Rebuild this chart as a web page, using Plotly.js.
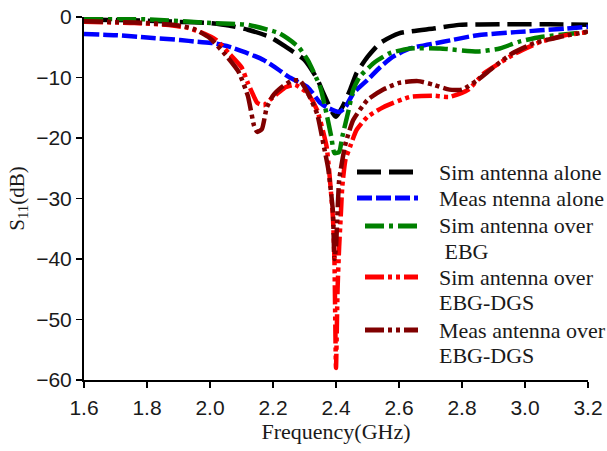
<!DOCTYPE html>
<html>
<head>
<meta charset="utf-8">
<script src="https://cdn.plot.ly/plotly-3.0.1.min.js"></script>
<style>html,body{margin:0;padding:0;background:#fff;}#chart{width:607px;height:451px;}</style>
</head>
<body>
<div id="chart"></div>
<script>
// Sim antenna alone
const simAloneX = [1.6,1.7,1.8,1.9,2.0,2.06,2.12,2.19,2.24,2.3,2.34,2.36,2.39,2.40,2.42,2.445,2.465,2.5,2.54,2.6,2.71,2.79,2.92,3.08,3.2];
const simAloneY = [-0.4,-0.5,-0.6,-0.8,-1.0,-1.4,-2.1,-3.3,-4.9,-7.1,-10.2,-12.6,-15.9,-16.5,-14.9,-12.0,-9.3,-6.6,-4.3,-2.7,-1.9,-1.3,-1.2,-1.2,-1.3];
// Meas antenna alone
const measAloneX = [1.6,1.7,1.8,1.905,1.96,2.01,2.06,2.12,2.17,2.22,2.25,2.31,2.35,2.37,2.41,2.43,2.455,2.5,2.54,2.58,2.635,2.74,2.85,2.97,3.13,3.2];
const measAloneY = [-2.8,-3.0,-3.4,-3.8,-4.1,-4.3,-4.9,-6.0,-7.1,-8.8,-9.9,-11.6,-14.2,-14.9,-15.7,-14.9,-12.6,-10.4,-8.3,-6.6,-5.2,-4.1,-3.0,-2.5,-1.9,-1.6];
// Sim antenna over EBG
const simEbgX = [1.6,1.8,2.01,2.12,2.22,2.28,2.31,2.35,2.37,2.385,2.395,2.41,2.42,2.44,2.455,2.475,2.52,2.57,2.635,2.73,2.85,2.92,2.98,3.05,3.2];
const simEbgY = [-0.3,-0.4,-1.0,-1.3,-2.7,-4.9,-7.1,-11.6,-16.0,-19.8,-22.5,-22.3,-19.8,-15.4,-12.0,-9.9,-7.6,-6.0,-5.2,-5.2,-5.7,-5.2,-4.1,-3.3,-2.5];
// Sim antenna over EBG-DGS
const simDgsX = [1.6,1.76,1.86,1.93,1.97,2.02,2.06,2.1,2.12,2.14,2.15,2.17,2.19,2.22,2.24,2.27,2.31,2.34,2.37,2.39,2.395,2.40,2.405,2.41,2.415,2.42,2.43,2.445,2.465,2.5,2.55,2.635,2.71,2.76,2.82,2.87,2.92,2.97,3.05,3.13,3.2];
const simDgsY = [-0.8,-1.0,-1.3,-1.8,-2.5,-3.8,-6.0,-8.3,-10.9,-13.2,-14.2,-14.6,-13.7,-12.4,-11.6,-11.2,-12.6,-15.4,-21.4,-33,-40,-58,-45,-38,-33,-28,-23.6,-21.4,-18.7,-16.5,-14.9,-13.2,-13.0,-13.2,-12.0,-9.3,-7.6,-6.0,-4.1,-3.0,-2.5];
// Meas antenna over EBG-DGS
const measDgsX = [1.6,1.8,1.9,1.95,2.0,2.05,2.09,2.12,2.14,2.15,2.165,2.18,2.2,2.23,2.26,2.285,2.31,2.34,2.36,2.375,2.39,2.395,2.40,2.41,2.43,2.455,2.5,2.55,2.6,2.66,2.71,2.76,2.8,2.85,2.9,2.96,3.03,3.11,3.2];
const measDgsY = [-0.7,-1.0,-1.4,-2.0,-3.5,-6.3,-9.0,-13.0,-18.0,-19.0,-18.5,-15.0,-13.0,-11.5,-10.5,-10.5,-12.5,-16.0,-21.0,-25.0,-32.0,-40.0,-38.0,-27.0,-21.0,-17.0,-13.7,-12.0,-10.9,-10.6,-11.2,-12.0,-12.0,-10.4,-8.3,-6.0,-4.3,-3.3,-2.4];

const names = ["Sim antenna alone","Meas ntenna alone","Sim antenna over\n EBG","Sim antenna over\nEBG-DGS","Meas antenna over\nEBG-DGS"];
const xTicks = [1.6,1.8,2.0,2.2,2.4,2.6,2.8,3.0,3.2];
const xTickText = ["1.6","1.8","2.0","2.2","2.4","2.6","2.8","3.0","3.2"];
const yTicks = [0,-10,-20,-30,-40,-50,-60];

const styles = [
  {color:"#000000", dash:"24px,8px"},
  {color:"#0000ff", dash:"15px,4px"},
  {color:"#008000", dash:"19px,5px,4px,5px"},
  {color:"#ff0000", dash:"19px,4px,4px,4px,4px,4px"},
  {color:"#800000", dash:"19px,4px,4px,4px,4px,4px"}
];
const xs = [simAloneX, measAloneX, simEbgX, simDgsX, measDgsX];
const ys = [simAloneY, measAloneY, simEbgY, simDgsY, measDgsY];

const traces = xs.map((x,i)=>({
  x:x, y:ys[i], name:names[i].replace("\n","<br>"), type:"scatter", mode:"lines",
  line:{color:styles[i].color, width:4.5, dash:styles[i].dash, shape:"spline", smoothing:0.5}
}));

// Manual legend layout (pixel positions inside the figure)
const W = 607, H = 451, ML = 84, MR = 19, MT = 17, MB = 71;
const pw = W-ML-MR, ph = H-MT-MB;
const px = v => (v-ML)/pw;
const py = v => (H-MB-v)/ph;
const legendRows = [172, 198, 226, 277, 330];
const legendLineStart = [357, 357, 365, 365, 365];
const legendLineEnd = 418;
const legendTextX = 437;
const lineGap = 25;

const shapes = [];
const annotations = [];
const legFont = {family:"Liberation Serif, Times New Roman, serif", size:22, color:"#1a1a1a"};
names.forEach((n,i)=>{
  shapes.push({type:"line", xref:"paper", yref:"paper",
    x0:px(legendLineStart[i]), x1:px(legendLineEnd), y0:py(legendRows[i]), y1:py(legendRows[i]),
    line:{color:styles[i].color, width:5, dash:styles[i].dash}});
  n.split("\n").forEach((t,k)=>{
    annotations.push({xref:"paper", yref:"paper", x:px(legendTextX), y:py(legendRows[i]+k*lineGap),
      xanchor:"left", yanchor:"middle", showarrow:false, text:t.replace(/^ /,"\u00a0"), font:legFont});
  });
});

const layout = {
  width:W, height:H,
  margin:{l:ML, r:MR, t:MT, b:MB},
  paper_bgcolor:"#fff", plot_bgcolor:"#fff",
  showlegend:false,
  shapes:shapes, annotations:annotations,
  xaxis:{range:[1.6,3.2], tickvals:xTicks, ticktext:xTickText, showgrid:false, zeroline:false,
    showline:true, linecolor:"#000", linewidth:2, ticks:"outside", ticklen:6, tickwidth:1.5, tickcolor:"#000",
    ticklabelstandoff:2,
    tickfont:{family:"Liberation Sans, Arial, sans-serif", size:21, color:"#1a1a1a"},
    title:{text:"Frequency(GHz)", font:{family:"Liberation Serif, Times New Roman, serif", size:22, color:"#1a1a1a"}, standoff:5}},
  yaxis:{range:[-60,0], tickvals:yTicks, showgrid:false, zeroline:false,
    showline:true, linecolor:"#000", linewidth:2, ticks:"outside", ticklen:6, tickwidth:1.5, tickcolor:"#000",
    tickfont:{family:"Liberation Sans, Arial, sans-serif", size:21, color:"#1a1a1a"},
    title:{text:"S<sub>11</sub>(dB)", font:{family:"Liberation Serif, Times New Roman, serif", size:21, color:"#1a1a1a"}, standoff:6}}
};

Plotly.newPlot("chart", traces, layout, {displayModeBar:false, staticPlot:true});
</script>
</body>
</html>
